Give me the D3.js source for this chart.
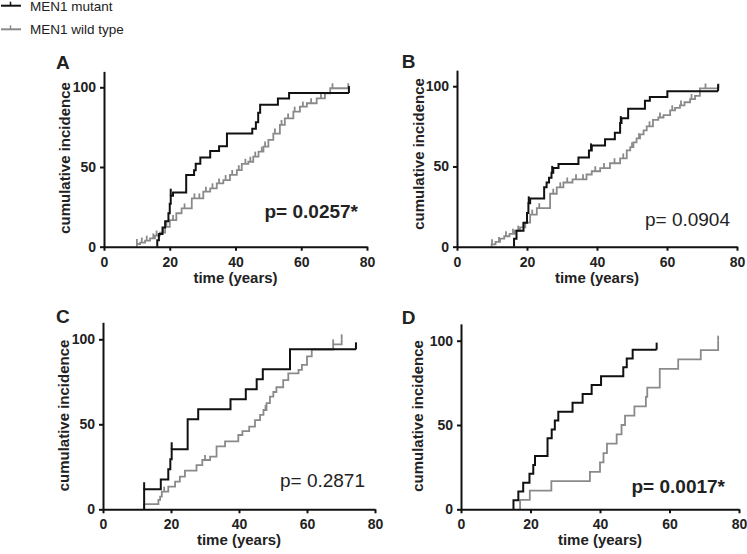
<!DOCTYPE html>
<html>
<head>
<meta charset="utf-8">
<script src="https://cdn.jsdelivr.net/npm/d3@7"></script>
<style>
body { margin: 0; background: #fff; }
svg text { font-family: "Liberation Sans", Arial, sans-serif; }
</style>
</head>
<body>
<div id="chart"></div>
<script>
// [time (years), cumulative incidence % after the step]
var mutA = [[16.2,4],[16.7,8],[17.8,12],[18.6,16],[19.6,21],[20.0,27],[20.3,32],[21.0,34],[25.0,45],[27.4,48],[27.9,52],[29.3,56],[32.3,60],[35.0,63],[37.4,71],[45.1,74],[46.2,78],[46.9,84],[47.5,89],[52.9,93],[56.3,96.4]];
var wtA = [[10,1.7],[11,2.6],[12.5,3.8],[14,5.2],[15.5,7],[17,8.8],[18.6,12.5],[20,16.7],[22,21],[23.6,24],[26.7,30.3],[30.2,34.5],[32.3,36.6],[34.3,39.7],[36.3,41.8],[38.3,45],[40.4,48],[41.9,52],[43.9,53.3],[45.4,56.5],[47,59.6],[48.5,62.8],[50,67],[51.5,71],[53.5,76.4],[55,80.5],[57.6,84.7],[59.6,87.9],[61.7,90],[64.7,93],[67.2,96.2],[68.8,99.4]];
var mutB = [[16.3,5],[17,10],[19,15],[20,21],[20.4,27],[20.9,30],[24.9,37],[25.6,40],[26.3,43],[27,46],[27.5,49],[29,51.5],[34.7,55.5],[37.7,60],[38.5,63],[42.3,67],[45.1,71],[46.6,77],[47,80],[48.9,86],[53.7,91],[55.1,93.3],[60.1,96.9]];
var wtB = [[9.9,1.5],[11,3],[12.3,5],[13.5,6.5],[15,8],[16.5,10],[18,12],[19.5,15],[20.9,20],[22.8,24],[26.6,33],[28.5,37],[30.4,40],[33,42],[37,45],[38.5,47],[40.9,49],[43.7,52],[46.6,55],[48.5,60],[49.5,62],[50.4,65],[51.3,67.5],[52.3,70],[53.3,72.5],[54.2,75],[56,79],[57.5,80.5],[59,82],[60.9,85],[62.3,86.5],[63.7,88],[65,90],[66.6,92],[68,94],[69.4,98.6]];
var mutC = [[12.1,11.8],[17,17.6],[19.2,23.5],[19.8,29.4],[20.2,35.3],[24.9,52.9],[28,58.8],[37.5,64.7],[42,70.6],[45.2,76.5],[47,82.4],[55,94.1]];
var wtC = [[12.1,3],[16.3,5.5],[16.8,7.5],[17.3,10.4],[19.2,13.3],[21.2,16.3],[22.6,19.2],[24.1,22.7],[27.5,26],[29.2,29],[31.5,31],[33.4,37],[35.9,40],[39.8,43.7],[41,46],[43,48.6],[44.7,52.5],[46.2,55.5],[47.2,58.4],[48.1,62.4],[49.1,66.3],[50.1,69],[51,71.8],[53,76],[54.5,80],[57.5,82],[58.5,85],[60,90],[61.4,94],[67.7,97],[70.2,100]];
var mutD = [[15.1,5.3],[16.5,10.5],[17.9,15.8],[19.7,21.1],[20.8,26.3],[21.3,31.6],[24.9,42.1],[26.1,47.4],[27,52.6],[28,57.9],[32.1,63.2],[35,68.4],[37.6,73.7],[40.3,78.9],[46.7,84.2],[47.7,89.5],[49.4,94.7]];
var wtD = [[17,5.6],[19.8,11.1],[26,16.7],[37.1,22.2],[40,27.8],[41,33.3],[42,38.9],[44.8,44.4],[46.2,50],[47.2,55.6],[49.9,61.1],[53.2,66.7],[53.6,72.2],[57.2,83.3],[62.5,88.9],[69,94.4],[74,100]];

// last follow-up time per curve
var endMut = [74.5, 74.6, 74.4, 56.3];
var endWt = [74.3, 74.7, 70.2, 74];

// censoring ticks (years)
var censMutA = [20.3, 74.5];
var censWtA = [10,11.5,13,15,16,18,19,21,24.5,27.5,29,31,33,35,37,39,41,43,44.5,46,48,49,52,54,56,58,60.5,63,66,69.5,74.3];
var censMutB = [20.5, 27.2, 38.3, 46.8, 74.6];
var censWtB = [10,12,14,16,17.5,19,21.5,23.5,27.5,29.5,31.5,34,36,39.5,42,45,47.5,50,52,55,58,61.5,64,67,71,74.7];
var censMutC = [12.1, 20.2, 74.4];
var censWtC = [18,30,47.8,67.7,70.2];
var censMutD = [56.3];
var censWtD = [74];

var xTicks = [0, 20, 40, 60, 80];
var yTicks = [0, 50, 100];
var panelNames = ["A", "B", "C", "D"];
var pLabels = ["p= 0.0257*", "p= 0.0904", "p= 0.2871", "p= 0.0017*"];
var pBold = [true, false, false, true];
var seriesNames = ["MEN1 mutant", "MEN1 wild type"];

var mutData = [mutA, mutB, mutC, mutD];
var wtData = [wtA, wtB, wtC, wtD];
var censMut = [censMutA, censMutB, censMutC, censMutD];
var censWt = [censWtA, censWtB, censWtC, censWtD];

var black = "#111", grey = "#8a8a8a";

// pixel layout of each panel
var layout = [
  {left:104, right:367, bottom:246.7, top:87.3, lx:56, ly:69.3, yl:[70,158], pX:358, pY:218.3},
  {left:457, right:737, bottom:246.7, top:86.2, lx:401.7, ly:68.3, yl:[424,154], pX:730, pY:225.5},
  {left:103, right:375, bottom:509.3, top:339.3, lx:56, ly:323.3, yl:[68.5,415.5], pX:365, pY:486.7},
  {left:461, right:739, bottom:509.3, top:340.7, lx:401.7, ly:324.3, yl:[422.7,416], pX:725, pY:492.7}
];

var svg = d3.select("#chart").append("svg")
  .attr("width", 747)
  .attr("height", 554);

// legend
[black, grey].forEach(function(c, i) {
  var ly = 5.7 + i * 23.6;
  svg.append("line").attr("x1", 1).attr("x2", 21).attr("y1", ly).attr("y2", ly)
    .attr("stroke", c).attr("stroke-width", 2);
  svg.append("line").attr("x1", 10.5).attr("x2", 10.5).attr("y1", ly - 4).attr("y2", ly)
    .attr("stroke", c).attr("stroke-width", 1.5);
  svg.append("text").attr("x", 30).attr("y", ly + 4.8)
    .attr("font-size", 13.5).attr("fill", "#222")
    .text(seriesNames[i]);
});

function valueAt(steps, t) {
  var v = 0;
  steps.forEach(function(d) { if (d[0] <= t + 1e-9) v = d[1]; });
  return v;
}

layout.forEach(function(L, i) {
  var x = d3.scaleLinear().domain([0, 80]).range([L.left, L.right]);
  var k = (L.bottom - L.top) / 100;
  var y = d3.scaleLinear().domain([0, 110]).range([L.bottom, L.bottom - 110 * k]);

  var g = svg.append("g");

  // curves: grey first so black sits on top; last item = censor tick length
  [[wtData[i], endWt[i], censWt[i], grey, 1.8, 5], [mutData[i], endMut[i], censMut[i], black, 2, 7]].forEach(function(s) {
    var steps = s[0];
    var pts = [[steps[0][0], 0]].concat(steps).concat([[s[1], steps[steps.length - 1][1]]]);
    var line = d3.line()
      .x(function(d) { return x(d[0]); })
      .y(function(d) { return y(d[1]); })
      .curve(d3.curveStepAfter);
    g.append("path").datum(pts)
      .attr("d", line)
      .attr("fill", "none")
      .attr("stroke", s[3])
      .attr("stroke-width", s[4]);

    g.selectAll(null).data(s[2]).enter().append("line")
      .attr("x1", function(t) { return x(t); })
      .attr("x2", function(t) { return x(t); })
      .attr("y1", function(t) { return y(valueAt(steps, t)); })
      .attr("y2", function(t) { return y(valueAt(steps, t)) - s[5]; })
      .attr("stroke", s[3])
      .attr("stroke-width", s[4]);
  });

  // axes
  var xAxis = g.append("g")
    .attr("transform", "translate(0," + L.bottom + ")")
    .call(d3.axisBottom(x).tickValues(xTicks).tickSize(4).tickSizeOuter(0).tickPadding(6));
  var yAxis = g.append("g")
    .attr("transform", "translate(" + L.left + ",0)")
    .call(d3.axisLeft(y).tickValues(yTicks).tickSize(4).tickSizeOuter(0).tickPadding(4));

  [xAxis, yAxis].forEach(function(a) {
    a.select(".domain").attr("stroke", black).attr("stroke-width", 2);
    a.selectAll(".tick line").attr("stroke", black).attr("stroke-width", 2);
    a.selectAll(".tick text")
      .attr("font-size", 14)
      .attr("font-weight", "bold")
      .attr("fill", "#222")
      .style("font-family", "'Liberation Sans', Arial, sans-serif");
  });

  // titles
  g.append("text")
    .attr("x", L.lx).attr("y", L.ly)
    .attr("font-size", 19).attr("font-weight", "bold").attr("fill", "#222")
    .text(panelNames[i]);

  g.append("text")
    .attr("transform", "translate(" + L.yl[0] + "," + L.yl[1] + ") rotate(-90)")
    .attr("text-anchor", "middle")
    .attr("font-size", 15).attr("font-weight", "bold").attr("fill", "#222")
    .text("cumulative incidence");

  g.append("text")
    .attr("x", (L.left + L.right) / 2).attr("y", L.bottom + 36)
    .attr("text-anchor", "middle")
    .attr("font-size", 15).attr("font-weight", "bold").attr("fill", "#222")
    .text("time (years)");

  g.append("text")
    .attr("x", L.pX).attr("y", L.pY)
    .attr("text-anchor", "end")
    .attr("font-size", 19)
    .attr("font-weight", pBold[i] ? "bold" : "normal")
    .attr("fill", "#222")
    .text(pLabels[i]);
});
</script>
</body>
</html>
